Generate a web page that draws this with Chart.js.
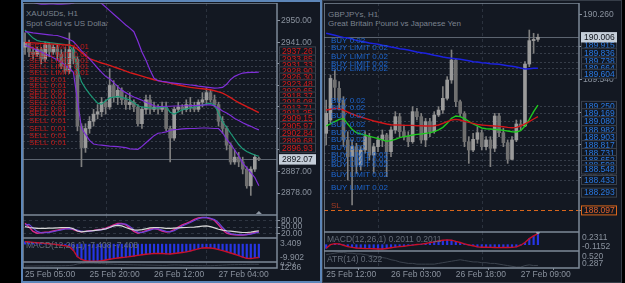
<!DOCTYPE html>
<html>
<head>
<meta charset="utf-8">
<script src="https://cdn.jsdelivr.net/npm/chart.js@4.4.1/dist/chart.umd.min.js"></script>
<style>
  html, body { margin: 0; padding: 0; background: #000; }
  body { width: 625px; height: 283px; position: relative; overflow: hidden; font-family: "Liberation Sans", Arial, sans-serif; }
  .frame { position: absolute; box-sizing: border-box; background: #131822; }
  #leftFrame { left: 21px; top: 0; width: 301px; height: 283px; border: 2px solid #5d86b8; }
  #rightFrame { left: 322px; top: 0; width: 300px; height: 283px; border: 1px solid #363d48; }
  .title { position: absolute; color: #7b838f; font-size: 8px; line-height: 9px; white-space: nowrap; }
</style>
</head>
<body>
<div class="frame" id="leftFrame"></div>
<div class="frame" id="rightFrame"></div>
<div class="title" style="left:26px;top:9px">XAUUSDs, H1</div>
<div class="title" style="left:26px;top:18.5px">Spot Gold vs US Dollar</div>
<div class="title" style="left:328px;top:9.5px">GBPJPYs, H1</div>
<div class="title" style="left:328px;top:19px">Great Britain Pound vs Japanese Yen</div>
<script>
// ---- XAUUSD H1 (left) ----
const leftTimeIdx = [0, 16, 32, 48];
const leftTimeText = ["25 Feb 05:00", "25 Feb 20:00", "26 Feb 12:00", "27 Feb 04:00"];
const leftOpen = [2939,2941,2937,2936,2938,2934,2940,2937,2939,2936, 2931,2929,2938,2934,2906,2897,2905,2908,2911,2912, 2916,2914,2923,2918,2921,2917,2915,2916,2914,2907, 2913,2917,2913,2914,2913,2914,2905,2901,2913,2914, 2913,2915,2914,2913,2916,2917,2920,2917,2915,2908, 2905,2898,2891,2893,2891,2888,2881,2888,2892.5];
const leftClose = [2941,2937,2936,2938,2934,2940,2937,2939,2936,2931, 2929,2938,2934,2906,2897,2905,2908,2911,2912,2916, 2914,2923,2918,2921,2917,2915,2916,2914,2907,2913, 2917,2913,2914,2913,2914,2905,2901,2913,2914,2913, 2915,2914,2913,2916,2917,2920,2917,2915,2908,2905, 2898,2891,2893,2891,2888,2881,2888,2893,2892.07];
const leftHigh = [2945,2942,2939,2939,2939,2941,2941,2940,2940,2938, 2939,2945,2939,2935,2907,2907,2910,2913,2915,2918, 2917,2930,2925,2923,2922,2919,2920,2917,2915,2914, 2919,2919,2916,2915,2916,2916,2906,2914,2916,2915, 2917,2918,2916,2917,2920,2922,2921,2919,2916,2910, 2906,2899,2896,2895,2893,2889,2889,2894,2893];
const leftLow = [2936,2935,2934,2935,2932,2933,2935,2936,2934,2930, 2928,2928,2932,2904,2889,2895,2903,2906,2909,2910, 2911,2913,2916,2915,2915,2913,2913,2912,2906,2905, 2911,2911,2912,2911,2912,2904,2891,2900,2912,2911, 2912,2912,2912,2912,2914,2915,2916,2914,2906,2903, 2896,2890,2890,2889,2886,2880,2877,2887,2891.5];
const leftBandUp = [2958.5,2958.2,2957.8,2957.3,2957.0,2957.0,2957.1,2957.1,2957.0,2957.0, 2957.1,2957.2,2957.4,2958.5,2959.5,2960.0,2960.0,2959.5,2958.5,2957.3, 2955.8,2954.3,2952.8,2951.3,2949.8,2948.3,2947.0,2945.5,2941.5,2937.0, 2933.5,2929.5,2926.0,2925.0,2924.7,2924.5,2924.2,2924.0,2923.8,2923.6, 2923.4,2923.2,2923.0,2922.7,2922.5,2922.3,2922.1,2921.9,2922.0,2922.2, 2923.5,2925.5,2926.8,2927.6,2928.2,2928.4,2928.5,2928.5,2928.6];
const leftBandMid = [2945.5,2945.3,2945.0,2944.8,2944.6,2944.4,2944.2,2944.0,2943.9,2943.4, 2942.8,2942.2,2941.4,2939.5,2937.5,2935.8,2934.1,2932.2,2930.3,2928.5, 2926.8,2925.8,2924.2,2922.5,2921.0,2920.0,2919.0,2918.2,2917.5,2916.8, 2916.0,2915.3,2914.5,2914.2,2914.2,2914.3,2914.3,2914.4,2914.4,2914.5, 2914.5,2914.6,2914.6,2914.7,2914.8,2914.9,2914.9,2914.5,2913.5,2912.3, 2911.5,2910.4,2909.2,2908.3,2907.4,2906.6,2905.9,2905.1,2904.4];
const leftBandLow = [2939.9,2939.2,2938.5,2937.8,2937.0,2936.2,2935.5,2934.6,2933.7,2932.8, 2931.3,2930.2,2928.5,2917.0,2905.2,2902.5,2900.0,2898.5,2898.2,2898.0, 2897.8,2897.6,2897.5,2897.4,2897.2,2897.0,2896.5,2896.4,2896.3,2897.5, 2899.0,2900.5,2902.0,2903.0,2903.2,2903.6,2904.2,2904.5,2904.6,2904.8, 2904.9,2905.0,2905.0,2905.1,2905.2,2905.2,2905.1,2905.0,2905.0,2903.2, 2900.5,2898.5,2896.0,2893.5,2890.5,2888.5,2886.5,2884.5,2881.0];
const leftSlowMa = [2941.0,2940.9,2940.8,2940.7,2940.6,2940.5,2940.4,2940.3,2940.2,2940.1, 2940.0,2939.9,2939.5,2938.2,2936.8,2935.4,2934.2,2933.6,2933.0,2932.4, 2931.9,2931.4,2930.8,2930.2,2929.6,2929.0,2928.4,2927.9,2927.4,2926.9, 2926.4,2925.9,2925.4,2925.0,2924.6,2924.3,2924.0,2923.6,2923.2,2922.9, 2922.5,2922.2,2922.0,2921.8,2921.6,2921.4,2921.2,2920.8,2920.3,2919.8, 2918.9,2917.9,2916.8,2915.8,2915.0,2914.1,2913.3,2912.5,2911.6];
const leftFastMa = [2946.2,2944.5,2942.8,2941.8,2941.4,2941.2,2940.9,2940.7,2940.5,2940.3, 2940.1,2939.6,2937.5,2930.0,2924.5,2921.8,2919.5,2917.5,2915.6,2915.2, 2916.6,2917.8,2918.1,2918.4,2918.0,2917.5,2916.9,2915.8,2914.5,2914.0, 2913.8,2913.6,2913.5,2913.6,2913.9,2914.0,2911.8,2911.0,2911.9,2912.8, 2913.2,2913.6,2914.0,2914.4,2914.8,2915.3,2915.5,2914.8,2911.5,2907.8, 2905.5,2903.0,2900.6,2898.3,2896.5,2895.4,2894.6,2893.9,2893.4];
const leftPriceTicks = [2878, 2887, 2896, 2905, 2914, 2923, 2932, 2941, 2950];
const sellLimitLevels = [2937.26, 2933.85, 2931.33, 2928.90, 2926.30];
const sellLevels = [2923.48, 2920.65, 2918.37, 2916.08, 2913.71, 2911.25, 2909.15, 2905.97, 2902.84, 2899.68, 2896.93];
const leftLast = 2892.07;
const stochMain = [67,50,30,22,24,26,28,32,36,40, 43,44,38,32,28,30,33,35,38,40, 45,52,60,66,66,60,45,30,22,27, 33,40,44,40,32,27,29,38,50,60, 67,75,85,92,94,93,88,80,60,38, 22,17,15,14,14,16,20,25,29];
const stochSignal = [60,62,45,30,24,24,26,29,33,37, 41,43,41,36,31,29,31,33,36,38, 42,48,55,62,65,63,52,38,27,25, 30,36,42,42,36,30,28,33,44,55, 63,71,80,88,93,94,90,84,70,48, 30,20,16,15,14,15,18,22,27];
const stochSlow = [52,48,46,44,44,44,45,45,46,47, 48,48,42,32,28,30,32,34,36,38, 42,48,55,58,55,48,42,37,36,38, 42,46,48,48,46,44,44,45,46,47, 48,49,50,52,54,55,52,46,40,36, 33,31,29,27,25,25,27,30,33];
const stochLevels = [20, 50, 80];
const leftMacd = [1.3,1.2,1.0,0.8,0.6,0.4,0.2,0.0,-0.3,-0.6, -0.9,-1.4,-3.5,-7.0,-8.5,-9.2,-9.5,-9.5,-9.4,-9.2, -8.8,-8.4,-8.0,-7.7,-7.4,-7.2,-6.9,-6.6,-6.2,-5.9, -5.6,-5.4,-5.2,-5.1,-5.2,-5.4,-5.5,-5.2,-4.9,-4.6, -4.3,-3.8,-3.2,-2.6,-2.1,-2.0,-2.1,-2.4,-3.0,-3.6, -4.2,-4.9,-5.6,-6.4,-7.2,-7.9,-8.0,-7.6,-7.408];
const leftMacdRange = [-9.902, 3.409];
const leftAtr = [7.2,7.3,7.3,7.4,7.4,7.5,7.5,7.6,7.6,7.7, 7.8,8.0,8.6,10.2,11.0,11.3,11.4,11.2,11.0,10.7, 10.4,10.1,9.8,9.6,9.4,9.2,9.0,8.9,8.8,8.7, 8.6,8.5,8.4,8.3,8.2,8.2,8.6,8.8,8.7,8.5, 8.3,8.1,7.9,7.8,7.7,7.6,7.7,7.9,8.2,8.5, 8.8,9.1,9.2,9.3,9.4,9.6,9.8,9.7,9.6];
const leftAtrRange = [4.57, 12.86];

// ---- GBPJPY H1 (right) ----
const rightTimeIdx = [0, 15, 30, 45];
const rightTimeText = ["25 Feb 12:00", "26 Feb 03:00", "26 Feb 18:00", "27 Feb 09:00"];
const rightOpen = [188.947,189.094,189.535,189.443,189.314,188.874,188.690,188.800,188.598,188.763, 188.910,188.708,188.800,188.874,188.929,188.745,188.984,189.131,188.965,188.910, 188.855,189.186,189.131,188.874,189.076,188.965,189.149,189.204,189.333,189.535, 189.755,189.296,189.167,188.855,188.763,188.881,188.954,188.800,188.874,188.782, 189.138,188.954,188.844,188.660,188.874,189.050,189.028,189.711,189.969,189.983];
const rightClose = [189.167,189.553,189.454,189.314,188.874,188.690,188.800,188.598,188.763,188.910, 188.708,188.800,188.874,188.929,188.745,188.984,189.131,188.965,188.910,188.855, 189.186,189.131,188.874,189.076,188.965,189.149,189.204,189.333,189.535,189.755, 189.296,189.167,188.855,188.763,188.881,188.954,188.800,188.874,188.782,189.138, 188.954,188.844,188.660,188.874,189.050,189.028,189.711,189.969,189.983,190.006];
const rightHigh = [189.314,189.590,189.645,189.517,189.351,188.965,188.874,188.837,188.800,188.965, 188.947,188.837,188.910,188.984,188.947,189.020,189.186,189.167,189.039,188.965, 189.241,189.223,189.167,189.112,189.112,189.186,189.241,189.462,189.572,189.866, 189.774,189.314,189.186,188.910,188.947,189.020,188.984,188.910,188.910,189.167, 189.167,189.002,188.874,188.910,189.094,189.094,189.737,190.086,190.050,190.042];
const rightLow = [188.818,189.057,189.314,189.204,188.800,188.432,188.157,188.506,188.543,188.727, 188.653,188.506,188.745,188.800,188.469,188.690,188.947,188.910,188.874,188.800, 188.837,189.094,188.837,188.800,188.910,188.947,189.131,189.167,189.314,189.498, 189.241,189.131,188.800,188.616,188.745,188.837,188.763,188.763,188.579,188.745, 188.910,188.800,188.616,188.653,188.855,188.984,189.020,189.682,189.829,189.961];
const rightLongMa = [190.050,190.039,190.028,190.016,190.005,189.998,189.987,189.972,189.961,189.954, 189.943,189.936,189.928,189.917,189.910,189.899,189.891,189.880,189.873,189.866, 189.855,189.844,189.836,189.829,189.818,189.807,189.800,189.789,189.781,189.774, 189.770,189.763,189.755,189.748,189.737,189.733,189.726,189.722,189.715,189.711, 189.708,189.700,189.693,189.686,189.678,189.667,189.656,189.660,189.664,189.664];
const rightSlowMa = [189.204,189.212,189.223,189.219,189.204,189.182,189.160,189.142,189.127,189.112, 189.098,189.083,189.072,189.061,189.050,189.042,189.039,189.039,189.035,189.035, 189.035,189.031,189.031,189.028,189.028,189.031,189.039,189.057,189.076,189.094, 189.101,189.094,189.079,189.068,189.057,189.046,189.039,189.035,189.031,189.028, 189.024,189.020,189.013,189.009,189.013,189.028,189.050,189.076,189.105,189.131];
const rightFastMa = [189.028,189.050,189.076,189.101,189.109,189.050,188.991,188.954,188.940,188.929, 188.914,188.903,188.888,188.874,188.859,188.866,188.881,188.899,188.910,188.918, 188.929,188.936,188.940,188.947,188.954,188.965,188.984,189.013,189.057,189.112, 189.138,189.131,189.109,189.079,189.050,189.028,189.006,188.998,188.995,188.991, 188.987,188.980,188.973,188.965,188.962,188.976,189.028,189.101,189.186,189.259];
const rightPriceTicks = [188.100, 188.460, 188.820, 189.180, 189.540, 189.900, 190.260];
const buyLevelsTop = [189.915];
const buyLimitLevelsTop = [189.836, 189.738, 189.664, 189.604];
const buyLevels = [189.250, 189.169, 189.080, 188.982, 188.903, 188.817, 188.731];
const buyLimitLevels = [188.652, 188.598, 188.548, 188.433, 188.293];
const rightLast = 190.006;
const rightSl = 188.097;
const rightMacd = [-0.066,0.000,0.020,0.015,-0.010,-0.035,-0.050,-0.060,-0.066,-0.070, -0.072,-0.075,-0.078,-0.079,-0.070,-0.055,-0.045,-0.035,-0.028,-0.018, -0.008,0.002,0.010,0.022,0.038,0.052,0.066,0.080,0.088,0.082, 0.060,0.040,0.015,-0.005,-0.020,-0.040,-0.046,-0.048,-0.050,-0.052, -0.054,-0.052,-0.052,-0.050,-0.040,-0.010,0.040,0.110,0.160,0.2011];
const rightMacdRange = [-0.1152, 0.2311];
const rightAtr = [0.47,0.48,0.49,0.50,0.50,0.49,0.49,0.48,0.48,0.47, 0.46,0.45,0.44,0.43,0.42,0.40,0.39,0.37,0.36,0.35, 0.35,0.34,0.34,0.34,0.34,0.34,0.35,0.36,0.37,0.38, 0.39,0.40,0.39,0.38,0.37,0.37,0.36,0.36,0.35,0.35, 0.34,0.33,0.32,0.31,0.30,0.30,0.32,0.33,0.32,0.322];
const rightAtrRange = [0.287, 0.520];

const FONT = '"Liberation Sans", Arial, sans-serif';
const AXIS_COLOR = "#8a929e";
Chart.defaults.font.family = FONT;
Chart.defaults.font.size = 8.5;
Chart.defaults.color = AXIS_COLOR;

function slots(n) {
  return Array.from({ length: n }, (_, i) => i);
}

function hLine(ctx, x0, x1, y) {
  ctx.beginPath();
  ctx.moveTo(x0, y);
  ctx.lineTo(x1, y);
  ctx.stroke();
}

function candles(open, high, low, close, bodyW) {
  return [
    {
      type: "bar", order: 3, grouped: false, barThickness: 1,
      data: open.map((v, i) => [low[i], high[i]]),
      backgroundColor: "#7f7f7f"
    },
    {
      type: "bar", order: 2, grouped: false, barThickness: bodyW, minBarLength: 1,
      data: open.map((v, i) => [v, close[i]]),
      backgroundColor: open.map((v, i) => (close[i] >= v ? "#9b9b9b" : "#707070"))
    }
  ];
}

function line(data, color, width) {
  return { type: "line", order: 0, data, borderColor: color, borderWidth: width || 1.2, pointRadius: 0, tension: 0 };
}

// pane outline + vertical dashed grid
function framePlugin(vGrid) {
  return {
    id: "frame",
    beforeDatasetsDraw(chart) {
      const { ctx, chartArea: a, scales: { x } } = chart;
      ctx.save();
      ctx.strokeStyle = "#2b323e";
      ctx.setLineDash([3, 3]);
      ctx.lineWidth = 1;
      for (const i of vGrid) {
        const px = Math.round(x.getPixelForValue(i)) + 0.5;
        ctx.beginPath();
        ctx.moveTo(px, a.top);
        ctx.lineTo(px, a.bottom);
        ctx.stroke();
      }
      ctx.restore();
    },
    afterDraw(chart) {
      const { ctx, chartArea: a } = chart;
      ctx.save();
      ctx.strokeStyle = "#7e8998";
      ctx.lineWidth = 1.5;
      ctx.strokeRect(a.left, a.top, a.right - a.left, a.bottom - a.top);
      ctx.restore();
    }
  };
}

function priceBox(ctx, x, y, w, text, fill, stroke, color) {
  ctx.fillStyle = fill;
  ctx.fillRect(x, y - 5, w, 10);
  ctx.strokeStyle = stroke;
  ctx.lineWidth = 1;
  ctx.strokeRect(x + 0.5, y - 4.5, w - 1, 9);
  ctx.fillStyle = color;
  ctx.textAlign = "left";
  ctx.textBaseline = "middle";
  ctx.fillText(text, x + 3, y + 0.5);
}

// pending / open orders, last price and stop loss
function ordersPlugin(o) {
  return {
    id: "orders",
    beforeDatasetsDraw(chart) {
      const { ctx, chartArea: a, scales: { y } } = chart;
      ctx.save();
      ctx.lineWidth = 1;
      ctx.setLineDash([2, 2]);
      ctx.strokeStyle = "#363d49";
      o.levels.forEach((lv) => hLine(ctx, a.left, a.right, Math.round(y.getPixelForValue(lv.price)) + 0.5));
      if (o.sl != null) {
        ctx.strokeStyle = "#d9661c";
        ctx.setLineDash([4, 3]);
        hLine(ctx, a.left, a.right, Math.round(y.getPixelForValue(o.sl)) + 0.5);
      }
      ctx.setLineDash([]);
      ctx.strokeStyle = "#5c6470";
      hLine(ctx, a.left, a.right, Math.round(y.getPixelForValue(o.last)) + 0.5);
      ctx.restore();
    },
    afterDatasetsDraw(chart) {
      const { ctx, chartArea: a, scales: { x, y } } = chart;
      ctx.save();
      ctx.font = "8px " + FONT;
      ctx.textAlign = "left";
      ctx.textBaseline = "bottom";
      ctx.fillStyle = o.textColor;
      o.levels.forEach((lv) => ctx.fillText(lv.text, a.left + o.textX, y.getPixelForValue(lv.price) - 1));
      if (o.sl != null) {
        ctx.fillStyle = "#a53b22";
        ctx.fillText("SL", a.left + o.textX, y.getPixelForValue(o.sl) - 1);
      }
      if (o.shiftMark) {
        const px = x.getPixelForValue(o.shiftMark);
        ctx.fillStyle = "#8d96a2";
        ctx.beginPath();
        ctx.moveTo(px - 3, a.bottom - 1);
        ctx.lineTo(px + 3, a.bottom - 1);
        ctx.lineTo(px, a.bottom - 4);
        ctx.fill();
      }
      ctx.restore();
    },
    afterDraw(chart) {
      const { ctx, chartArea: a, scales: { y } } = chart;
      ctx.save();
      ctx.font = "8.5px " + FONT;
      const bx = a.right + 2;
      o.levels.forEach((lv) => {
        priceBox(ctx, bx, y.getPixelForValue(lv.price), o.boxW, lv.price.toFixed(o.dec), "#121720", "#3b424e", o.boxText);
      });
      if (o.sl != null) {
        priceBox(ctx, bx, y.getPixelForValue(o.sl), o.boxW, o.sl.toFixed(o.dec), "#121720", "#d9661c", "#e2622c");
      }
      priceBox(ctx, bx, y.getPixelForValue(o.last), o.boxW, o.last.toFixed(o.dec), "#c5ced9", "#c5ced9", "#10141b");
      ctx.restore();
    }
  };
}

// indicator windows: max label at top, min label at bottom, short name top-left
function indicatorPlugin(range, dec, name, nameDy, dot) {
  return {
    id: "indicator",
    afterDraw(chart) {
      const { ctx, chartArea: a, scales: { x } } = chart;
      ctx.save();
      ctx.font = "8.5px " + FONT;
      ctx.fillStyle = AXIS_COLOR;
      ctx.textAlign = "left";
      ctx.textBaseline = "top";
      ctx.fillText(range[1].toFixed(dec), a.right + 3, a.top + 1);
      ctx.textBaseline = "bottom";
      ctx.fillText(range[0].toFixed(dec), a.right + 3, a.bottom);
      if (name) {
        ctx.fillStyle = "#656d79";
        ctx.textBaseline = "top";
        ctx.fillText(name, a.left + 3, a.top + nameDy);
      }
      if (dot != null) {
        ctx.fillStyle = "#9aa2ad";
        ctx.beginPath();
        ctx.arc(x.getPixelForValue(dot), a.top, 2, 0, Math.PI * 2);
        ctx.fill();
      }
      ctx.restore();
    }
  };
}

function makePane(p) {
  const cv = document.createElement("canvas");
  cv.width = p.width;
  cv.height = p.height;
  cv.style.cssText = `position:absolute;left:${p.left}px;top:${p.top}px`;
  document.body.appendChild(cv);
  const showX = !!p.time;
  const yTicks = p.yTicks || null;
  return new Chart(cv, {
    type: "bar",
    data: { labels: slots(p.slots), datasets: p.datasets },
    options: {
      responsive: false,
      animation: false,
      events: [],
      layout: { padding: 0 },
      plugins: { legend: { display: false }, tooltip: { enabled: false } },
      scales: {
        x: {
          display: showX,
          offset: true,
          grid: { display: showX, drawOnChartArea: false, tickLength: 2, color: AXIS_COLOR },
          border: { display: false },
          ticks: {
            autoSkip: false, maxRotation: 0, align: "start", padding: 0, color: AXIS_COLOR,
            callback: (v) => (showX ? p.time.text[p.time.idx.indexOf(v)] : "")
          },
          afterBuildTicks: (s) => { if (showX) s.ticks = p.time.idx.map((v) => ({ value: v })); },
          afterFit: (s) => { s.height = p.xAxisH || 0; s.paddingLeft = 0; s.paddingRight = 0; }
        },
        y: {
          position: "right",
          min: p.yMin,
          max: p.yMax,
          grid: {
            display: !!yTicks, drawOnChartArea: !!p.yGridOnChart, tickLength: 3,
            color: "#2f3642", tickColor: AXIS_COLOR
          },
          border: { display: false, dash: [3, 3] },
          ticks: {
            display: !!yTicks, autoSkip: false, padding: 1, color: AXIS_COLOR,
            callback: (v) => Number(v).toFixed(p.yDec || 2)
          },
          afterBuildTicks: (s) => { if (yTicks) s.ticks = yTicks.map((v) => ({ value: v })); },
          afterFit: (s) => { s.width = p.axisW; s.paddingTop = 0; s.paddingBottom = 0; }
        }
      }
    },
    plugins: [framePlugin(p.vGrid)].concat(p.plugins || [])
  });
}

// ---------- left window ----------
const LEFT = { left: 23, width: 297, axisW: 43, slots: 63, vGrid: [20, 45] };

makePane({
  ...LEFT, top: 3, height: 212, yMin: 2868.8, yMax: 2957.5, yTicks: leftPriceTicks, yDec: 2,
  datasets: [
    ...candles(leftOpen, leftHigh, leftLow, leftClose, 3),
    line(leftBandUp, "#7f2fd8"),
    line(leftBandMid, "#7f2fd8"),
    line(leftBandLow, "#7f2fd8"),
    line(leftSlowMa, "#d81a1a", 1.4),
    line(leftFastMa, "#1d9a78")
  ],
  plugins: [ordersPlugin({
    levels: sellLimitLevels.map((price) => ({ price, text: "SELL LIMIT 0.01" }))
      .concat(sellLevels.map((price) => ({ price, text: "SELL 0.01" }))),
    last: leftLast, dec: 2, boxW: 37, textX: 6, textColor: "#c41a1a", boxText: "#d21c1c", shiftMark: 58
  })]
});

makePane({
  ...LEFT, top: 215, height: 23, yMin: 0, yMax: 105, yTicks: stochLevels, yDec: 2, yGridOnChart: true,
  datasets: [
    line(stochSlow, "#d8d8d8", 1.2),
    line(stochSignal, "#6a46d8", 1.2),
    line(stochMain, "#e0288c", 1.4)
  ]
});

makePane({
  ...LEFT, top: 238, height: 24, yMin: leftMacdRange[0], yMax: leftMacdRange[1],
  datasets: [
    { type: "bar", order: 2, data: leftMacd, backgroundColor: "#2636e6", barThickness: 1.5 },
    line(leftMacd, "#c8102a", 1.4)
  ],
  plugins: [indicatorPlugin(leftMacdRange, 3, "MACD(12,26,1) -7.408 -7.408", 3)]
});

makePane({
  ...LEFT, top: 262, height: 19, xAxisH: 13, yMin: leftAtrRange[0], yMax: leftAtrRange[1],
  time: { idx: leftTimeIdx, text: leftTimeText },
  datasets: [line(leftAtr, "#3c434e", 1)],
  plugins: [indicatorPlugin(leftAtrRange, 2, null, 0)]
});

// ---------- right window ----------
const RIGHT = { left: 324, width: 296, axisW: 41, slots: 59, vGrid: [12, 36] };

makePane({
  ...RIGHT, top: 3, height: 229, yMin: 187.859, yMax: 190.384, yTicks: rightPriceTicks, yDec: 3,
  datasets: [
    ...candles(rightOpen, rightHigh, rightLow, rightClose, 3),
    line(rightLongMa, "#1c22e0", 1.5),
    line(rightSlowMa, "#d0161a", 1.4),
    line(rightFastMa, "#1fc81f", 1.4)
  ],
  plugins: [ordersPlugin({
    levels: buyLevelsTop.map((price) => ({ price, text: "BUY 0.02" }))
      .concat(buyLimitLevelsTop.map((price) => ({ price, text: "BUY LIMIT 0.02" })))
      .concat(buyLevels.map((price) => ({ price, text: "BUY 0.02" })))
      .concat(buyLimitLevels.map((price) => ({ price, text: "BUY LIMIT 0.02" }))),
    last: rightLast, sl: rightSl, dec: 3, boxW: 36, textX: 7, textColor: "#1d66cf", boxText: "#2a78e0"
  })]
});

makePane({
  ...RIGHT, top: 232, height: 19, yMin: rightMacdRange[0], yMax: rightMacdRange[1],
  datasets: [
    { type: "bar", order: 2, data: rightMacd, backgroundColor: "#2636e6", barThickness: 1.5 },
    line(rightMacd, "#c8102a", 1.4)
  ],
  plugins: [indicatorPlugin(rightMacdRange, 4, "MACD(12,26,1) 0.2011 0.2011", 3, 49)]
});

makePane({
  ...RIGHT, top: 251, height: 30, xAxisH: 13, yMin: rightAtrRange[0], yMax: rightAtrRange[1],
  time: { idx: rightTimeIdx, text: rightTimeText },
  datasets: [line(rightAtr, "#3c434e", 1)],
  plugins: [indicatorPlugin(rightAtrRange, 3, "ATR(14) 0.322", 4)]
});
</script>
</body>
</html>
